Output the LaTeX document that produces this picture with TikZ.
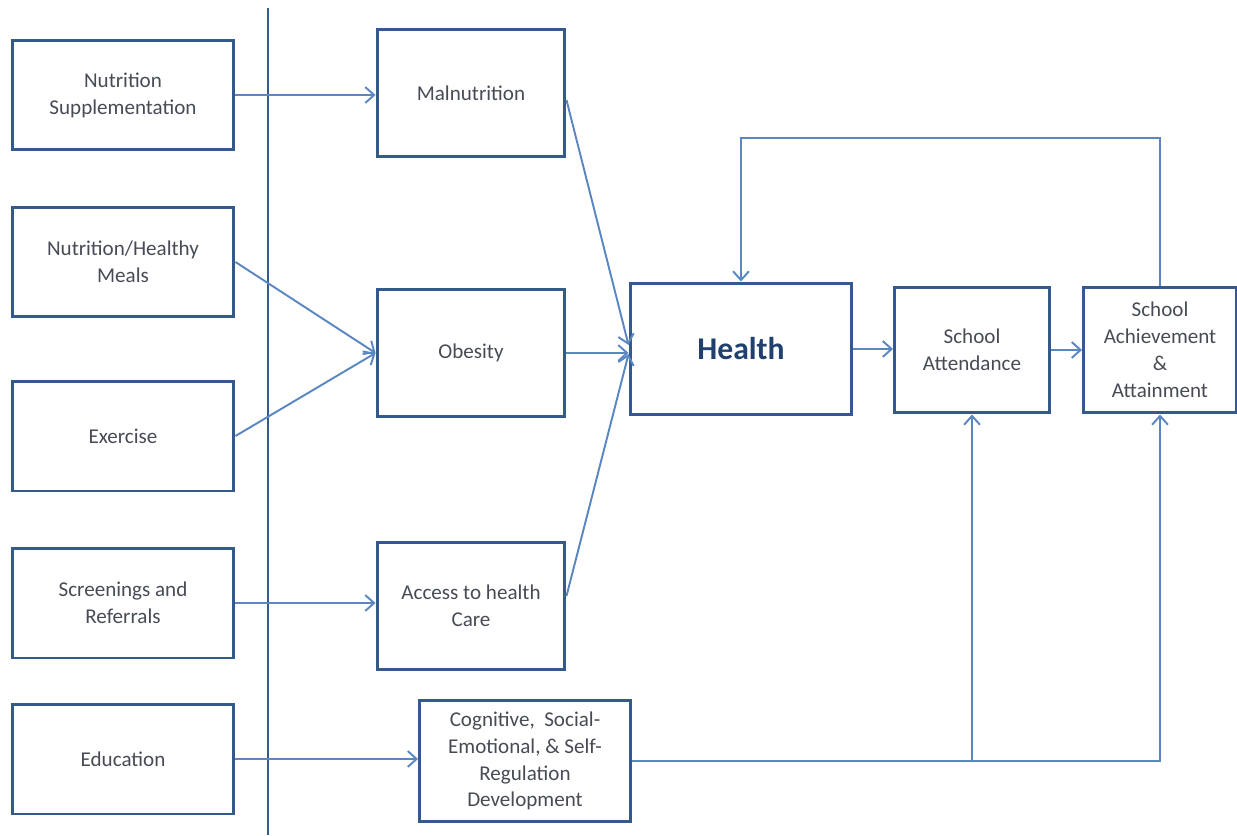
\documentclass[tikz,border=0pt]{standalone}
\usepackage{fontspec}
\setmainfont{Carlito}
\usetikzlibrary{arrows.meta,calc}
\definecolor{boxblue}{HTML}{34598C}
\definecolor{linkblue}{HTML}{5A86C2}
\definecolor{txtgray}{HTML}{464B55}
\definecolor{healthblue}{HTML}{22406E}

\begin{document}
\begin{tikzpicture}[x=0.02cm, y=-0.02cm, >={Straight Barb[length=5pt,width=9pt]},
    box/.style={draw=boxblue, line width=1.7pt, align=center, inner sep=2pt,
        text=txtgray, font=\fontsize{12}{15.3}\selectfont},
    leftbox/.style={box, minimum width=4.44cm, minimum height=2.2cm},
    midbox/.style={box, minimum width=3.76cm, minimum height=2.54cm},
    link/.style={draw=linkblue, line width=1.1pt}]
        \useasboundingbox (0,0) rectangle (1237,835);
        % interventions
        \node[leftbox] (supp) at (123,95) {Nutrition\\Supplementation};
        \node[leftbox] (meals) at (123,262) {Nutrition/Healthy\\Meals};
        \node[leftbox] (exer) at (123,436) {Exercise};
        \node[leftbox] (screen) at (123,603) {Screenings and\\Referrals};
        \node[leftbox] (educ) at (123,759) {Education};
        \coordinate (bartop) at (268,8);
        \coordinate (barbot) at (268,835);
        \draw[boxblue, line width=1.7pt] (bartop) -- (barbot);
        % mediators
        \node[midbox] (malnut) at (471,93) {Malnutrition};
        \node[midbox] (obes) at (471,353) {Obesity};
        \node[midbox] (access) at (471,606) {Access to health\\Care};
        \node[box, minimum width=4.22cm, minimum height=2.42cm] (cogn) at (525,761)
            {Cognitive,\ \ Social-\\Emotional, \& Self-\\Regulation\\Development};
        % outcomes
        \node[box, minimum width=4.44cm, minimum height=2.64cm, text=healthblue,
            font=\fontsize{18}{22}\selectfont\bfseries] (health) at (741,349) {Health};
        \node[box, minimum width=3.1cm, minimum height=2.52cm] (attend) at (972,350) {School\\Attendance};
        \node[box, minimum width=3.06cm, minimum height=2.52cm] (achieve) at (1160,350)
            {School\\Achievement\\\&\\Attainment};
        % links
        \draw[link, ->] (supp.east) -- (supp.east -| malnut.west);
        \draw[link, ->] (meals.east) -- (obes.west);
        \draw[link, ->] (exer.east) -- (obes.west);
        \draw[link, ->] (screen.east) -- (screen.east -| access.west);
        \draw[link, ->] (educ.east) -- (educ.east -| cogn.west);
        \draw[link, ->] ([yshift=-0.14cm]malnut.east) -- ([yshift=0.08cm]health.west);
        \draw[link, ->] (obes.east) -- (obes.east -| health.west);
        \draw[link, ->] ([yshift=0.2cm]access.east) -- ([yshift=-0.1cm]health.west);
        \draw[link, ->] (health.east) -- (health.east -| attend.west);
        \draw[link, ->] (attend.east) -- (attend.east -| achieve.west);
        \draw[link, ->] (achieve.north) -- (achieve.north |- 0,138) -| (health.north);
        \coordinate (split) at (cogn.east -| attend.south);
        \draw[link, ->] (cogn.east) -| (achieve.south);
        \draw[link, ->] (split) -- (attend.south);
    \end{tikzpicture}
\end{document}
